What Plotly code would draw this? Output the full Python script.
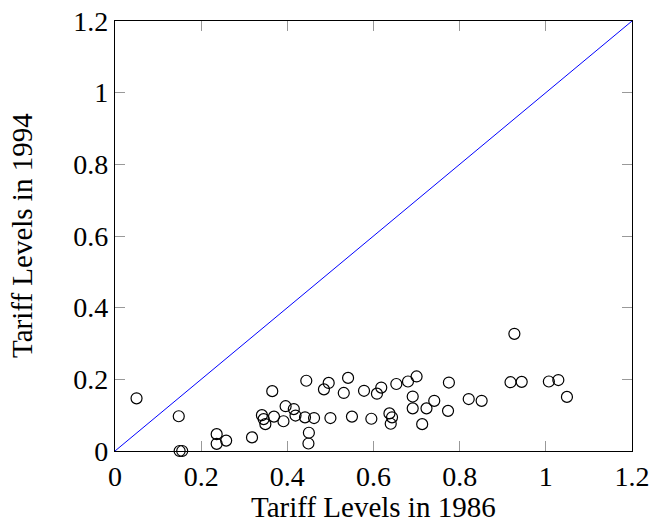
import plotly.graph_objects as go

x86 = [0.050, 0.148, 0.150, 0.156, 0.236, 0.236, 0.258, 0.318, 0.365, 0.341,
       0.345, 0.349, 0.369, 0.391, 0.396, 0.415, 0.419, 0.441, 0.462, 0.444,
       0.450, 0.449, 0.485, 0.496, 0.500, 0.531, 0.541, 0.550, 0.578, 0.595,
       0.608, 0.618, 0.637, 0.643, 0.640, 0.653, 0.680, 0.700, 0.691, 0.691,
       0.723, 0.741, 0.713, 0.775, 0.773, 0.821, 0.851, 0.927, 0.918, 0.944,
       1.007, 1.029, 1.049]
y94 = [0.147, 0.097, 0.000, 0.000, 0.047, 0.020, 0.029, 0.038, 0.167, 0.100,
       0.089, 0.075, 0.096, 0.083, 0.125, 0.117, 0.099, 0.094, 0.092, 0.196,
       0.051, 0.021, 0.172, 0.190, 0.092, 0.162, 0.204, 0.096, 0.168, 0.090,
       0.160, 0.177, 0.105, 0.094, 0.076, 0.187, 0.194, 0.208, 0.152, 0.119,
       0.119, 0.140, 0.075, 0.191, 0.112, 0.145, 0.140, 0.327, 0.192, 0.193,
       0.194, 0.198, 0.151]
diag = [0, 1.2]
tickvals = [0, 0.2, 0.4, 0.6, 0.8, 1.0, 1.2]
ticktext = ["0", "0.2", "0.4", "0.6", "0.8", "1", "1.2"]
xtitle = "Tariff Levels in 1986"
ytitle = "Tariff Levels in 1994"

font = dict(family="Liberation Serif, DejaVu Serif, serif", size=28, color="black")
tfont = dict(family="Liberation Serif, DejaVu Serif, serif", size=29, color="black")

fig = go.Figure()
fig.add_trace(go.Scatter(x=diag, y=diag, mode="lines",
                         line=dict(color="blue", width=1), showlegend=False,
                         hoverinfo="skip"))
fig.add_trace(go.Scatter(x=x86, y=y94, mode="markers", cliponaxis=False,
                         marker=dict(symbol="circle-open", size=11,
                                     color="black", line=dict(width=1.2, color="black")),
                         showlegend=False))

axis_common = dict(range=[0, 1.2], tickvals=tickvals, ticktext=ticktext,
                   ticks="inside", ticklen=10, tickwidth=1, tickcolor="#999999",
                   showline=True, linecolor="black", linewidth=1.2,
                   mirror="allticks", showgrid=False, zeroline=False,
                   tickfont=font, automargin=False)

fig.update_xaxes(**axis_common)
fig.update_yaxes(**axis_common)

fig.add_annotation(text=xtitle, xref="paper", yref="paper", x=0.5, y=0,
                   yshift=-56, showarrow=False, font=tfont, yanchor="middle",
                   borderpad=0)
fig.add_annotation(text=ytitle, xref="paper", yref="paper", x=0, y=0.5,
                   xshift=-93, showarrow=False, font=tfont, textangle=-90,
                   xanchor="center", borderpad=0)

fig.update_layout(width=653, height=525,
                  margin=dict(l=115, r=21, t=21, b=74),
                  plot_bgcolor="white", paper_bgcolor="white", font=font)

fig.write_html("out.html")
